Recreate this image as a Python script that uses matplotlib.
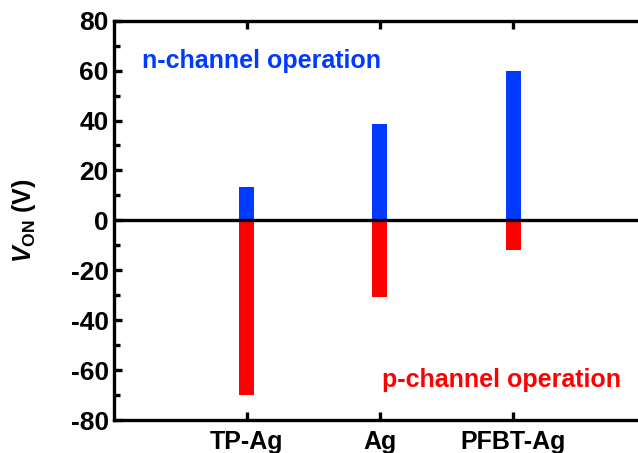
import matplotlib
matplotlib.use("Agg")
import matplotlib.pyplot as plt
from matplotlib.ticker import MultipleLocator

plt.rcParams['font.family'] = ['Liberation Sans', 'DejaVu Sans']
plt.rcParams['font.weight'] = 'bold'
plt.rcParams['axes.unicode_minus'] = False
plt.rcParams['mathtext.fontset'] = 'custom'
plt.rcParams['mathtext.it'] = 'Liberation Sans:italic:bold'
plt.rcParams['mathtext.rm'] = 'Liberation Sans:bold'

categories = ['TP-Ag', 'Ag', 'PFBT-Ag']
n_channel = [13.5, 38.5, 60.0]
p_channel = [-70.0, -30.6, -11.9]

blue = '#0039FF'
red = '#FF0000'

fig = plt.figure(figsize=(6.38, 4.53), dpi=100)
ax = fig.add_axes([113.5/638, 33/453, 4*133.2/638, 399.3/453])

x = [1, 2, 3]
ax.bar(x, n_channel, width=0.113, color=blue, zorder=2)
ax.bar(x, p_channel, width=0.113, color=red, zorder=2)
ax.axhline(0, color='black', lw=2.4, zorder=3)

ax.set_xlim(0, 4)
ax.set_ylim(-80, 80)
ax.set_xticks(x)
ax.set_xticklabels(categories)
ax.yaxis.set_major_locator(MultipleLocator(20))
ax.yaxis.set_minor_locator(MultipleLocator(10))

for s in ax.spines.values():
    s.set_linewidth(2.4)
ax.spines['right'].set_visible(False)

ax.tick_params(axis='both', which='major', direction='in', length=6, width=2.4)
ax.tick_params(axis='y', which='major', right=True, labelsize=19, pad=3.5)
ax.tick_params(axis='x', which='major', top=True, labelsize=18, pad=7)
ax.tick_params(axis='y', which='minor', direction='in', length=4, width=2.4, left=True, right=False)
ax.tick_params(axis='x', which='minor', bottom=False, top=False)

for lab in ax.get_xticklabels() + ax.get_yticklabels():
    lab.set_fontweight('bold')

ax.set_ylabel(r'$\mathit{V}_{\mathrm{ON}}$ (V)', fontsize=18, fontweight='bold')
ax.yaxis.set_label_coords(-0.142, 0.5)

ax.text(0.053, 63.8, 'n-channel operation', transform=ax.get_yaxis_transform(), color=blue,
        fontsize=18, fontweight='bold', va='center', ha='left')
ax.text(2.013, -63.8, 'p-channel operation', color=red,
        fontsize=18, fontweight='bold', va='center', ha='left')

fig.savefig('out.png', dpi=100)
